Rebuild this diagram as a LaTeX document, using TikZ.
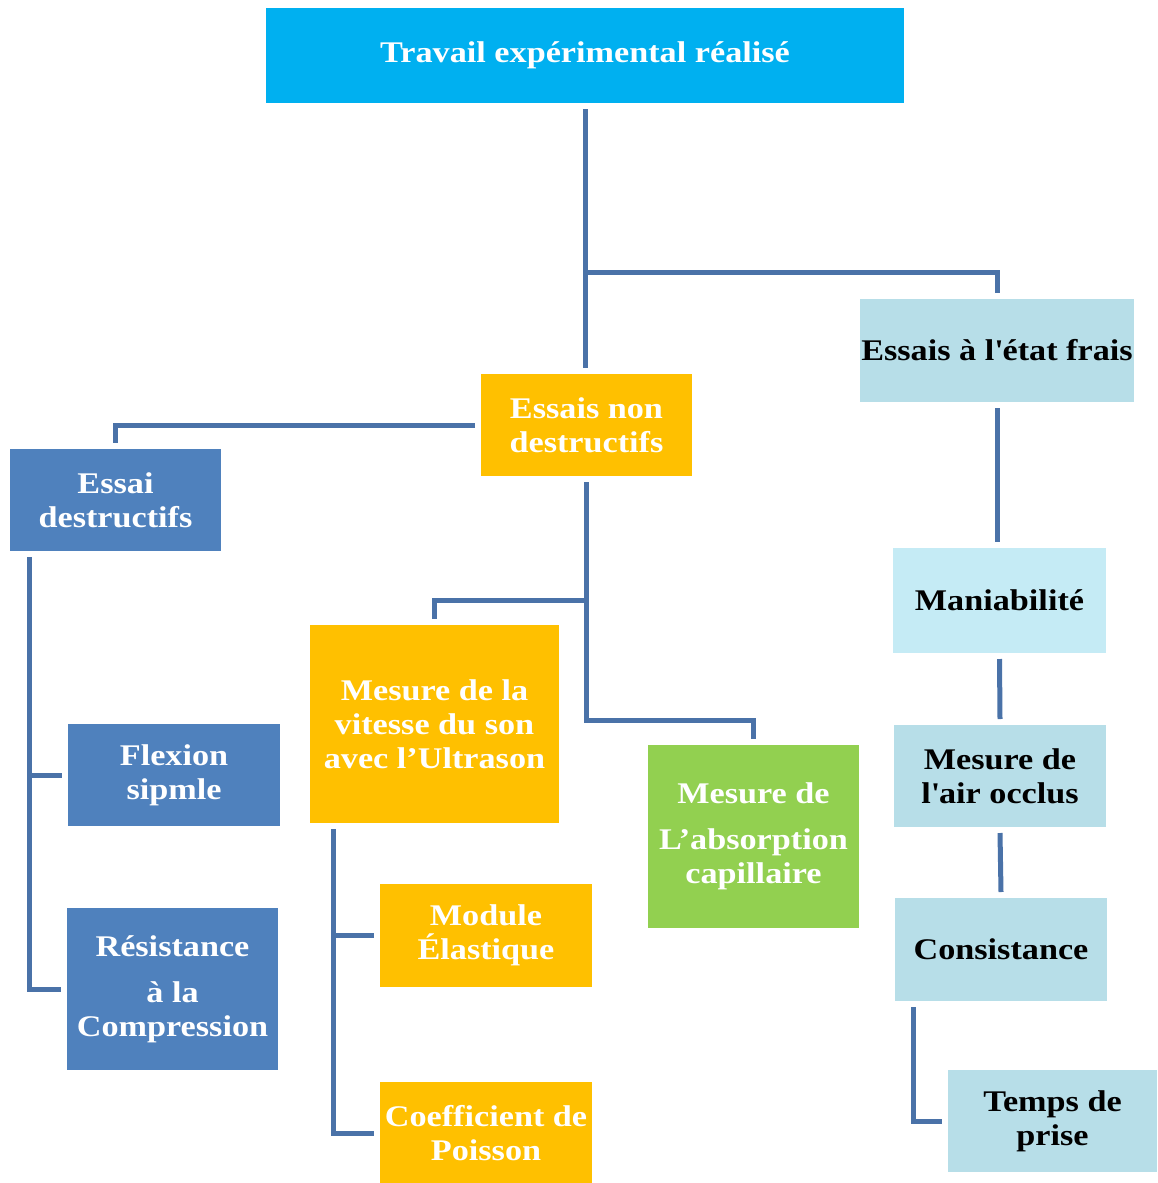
\documentclass[tikz,border=0pt]{standalone}
\usepackage{fontspec}
\newfontfamily\serifbold[FakeStretch=1.14]{Liberation Serif}
\newcommand*{\boxfont}{\serifbold\bfseries\fontsize{30}{34}\selectfont}
\definecolor{T}{HTML}{00B0F0}
\definecolor{O}{HTML}{FFC000}
\definecolor{B}{HTML}{4F81BD}
\definecolor{G}{HTML}{92D050}
\definecolor{L}{HTML}{B7DEE8}
\definecolor{M}{HTML}{C5EBF5}
\definecolor{W}{HTML}{4A72A8}
\tikzstyle{base}=[x=1pt, y=-1pt, inner sep=0pt]
\tikzstyle{box}=[inner sep=0pt, outer sep=6pt, align=center, font=\boxfont, text=white]
\tikzstyle{fresh}=[box, fill=L, text=black]
\tikzstyle{link}=[draw=W, line width=5pt]

\begin{document}
\begin{tikzpicture}[base]
    \path [use as bounding box] (0,0) rectangle (1157,1183);
        \node [box, fill=T, minimum width=638pt, minimum height=95pt] (top) at (585,55.5) {Travail expérimental réalisé};
        \node [box, fill=O, minimum width=211pt, minimum height=102pt] (nd) at (586.5,425) {Essais non\\destructifs};
        \node [box, fill=B, minimum width=211pt, minimum height=102pt] (d) at (115.5,500) {Essai\\destructifs};
        \node [fresh, minimum width=274pt, minimum height=103pt] (frais) at (997,350.5) {Essais à l\textquotesingle état frais};
        \node [fresh, fill=M, minimum width=213pt, minimum height=105pt] (mani) at (999.5,600.5) {Maniabilité};
        \node [fresh, minimum width=212pt, minimum height=102pt] (air) at (1000,776) {Mesure de\\l\textquotesingle air occlus};
        \node [fresh, minimum width=212pt, minimum height=103pt] (cons) at (1001,949.5) {Consistance};
        \node [fresh, minimum width=209pt, minimum height=102pt] (prise) at (1052.5,1121) {Temps de\\prise};
        \node [box, fill=O, minimum width=249pt, minimum height=198pt] (son) at (434.5,724) {Mesure de la\\vitesse du son\\avec l’Ultrason};
        \node [box, fill=G, minimum width=211pt, minimum height=183pt] (capil) at (753.5,836.5) {Mesure de\\[12pt]L’absorption\\capillaire};
        \node [box, fill=B, minimum width=212pt, minimum height=102pt] (flex) at (174,775) {Flexion\\sipmle};
        \node [box, fill=B, minimum width=211pt, minimum height=162pt] (comp) at (172.5,989) {Résistance\\[12pt]à la\\Compression};
        \node [box, fill=O, minimum width=212pt, minimum height=103pt] (module) at (486,935.5) {Module\\Élastique};
        \node [box, fill=O, minimum width=212pt, minimum height=102pt] (poisson) at (486,1133) {Coefficient de\\Poisson};

        \coordinate (j1) at (585,272);
        \coordinate (j2) at (586.5,600);
        \coordinate (j3) at (586.5,720);
        \draw [link] (top.south) -- (j1) -| (frais.north);
        \draw [link] (j1) -- (j1 |- nd.north);
        \draw [link] (nd.west) -| (d.north);
        \draw [link] (nd.south) -- (j3) -| (capil.north);
        \draw [link] (j2) -| (son.north);
        \draw [link] ([xshift=25pt]d.south west) |- (flex.west);
        \draw [link] ([xshift=25pt]d.south west) |- (comp.west);
        \draw [link] ([xshift=29pt]son.south west) |- (module.west);
        \draw [link] ([xshift=29pt]son.south west) |- (poisson.west);
        \draw [link] (frais.south) -- (frais.south |- mani.north);
        \draw [link] (mani.south) -- (air.north);
        \draw [link] (air.south) -- (cons.north);
        \draw [link] ([xshift=24pt]cons.south west) |- (prise.west);
    \end{tikzpicture}
\end{document}
